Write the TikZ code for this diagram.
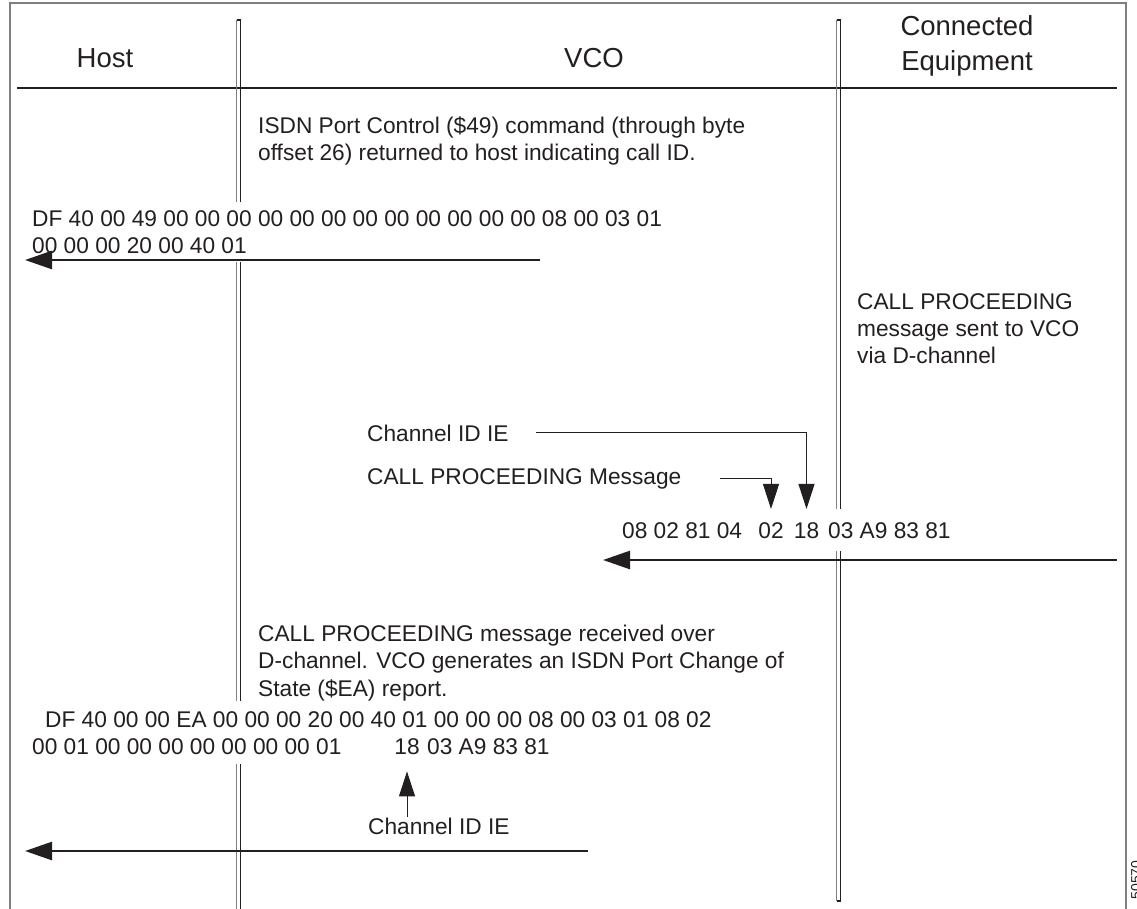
\documentclass[tikz,border=0pt]{standalone}
\usepackage{fontspec}
\setmainfont{Liberation Sans}
\usetikzlibrary{positioning, arrows.meta}
\definecolor{ink}{HTML}{231F20}
\definecolor{rulegray}{HTML}{7F7F7F}
\newcommand{\bodyfont}{\fontsize{22.7}{27.3}\selectfont}
\newcommand{\headfont}{\fontsize{27.5}{35}\selectfont}
\tikzstyle{header} = [inner sep=0pt, align=center, font=\headfont, text=ink]
\tikzstyle{note} = [inner sep=0pt, anchor=north west, align=left, font=\bodyfont, text=ink]
\tikzstyle{datablock} = [inner xsep=0pt, inner ysep=8pt, align=left, fill=white, font=\bodyfont, text=ink]
\tikzstyle{byte} = [inner xsep=0pt, inner ysep=13pt, font=\bodyfont, text=ink]
\tikzstyle{bytefill} = [byte, fill=white]
\tikzstyle{arrow} = [line width=2.6pt, draw=ink, -{Triangle[length=27pt,width=18pt]}]
\tikzstyle{pointer} = [line width=1pt, draw=ink, -{Triangle[length=25pt,width=16pt]}]
\tikzstyle{lifeline} = [line width=1.3pt]

\begin{document}
\begin{tikzpicture}[x=1pt, y=-1pt]
    \useasboundingbox (0,0) rectangle (1137,909);
    % frame and header rule
    \draw[rulegray, line width=1.2pt] (10,909) -- (10,3) -- (1126,3) -- (1126,909);
    \draw[ink, line width=2.8pt] (17,88) -- (1117,88);

    % lifelines
    \draw[lifeline, rulegray] (236.7,910) -- (236.7,20);
    \draw[lifeline, ink] (236.7,20) -- (240.7,20) -- (240.7,910);
    \draw[lifeline, rulegray] (836.7,901) -- (836.7,20);
    \draw[lifeline, ink] (836.7,20) -- (840.7,20) -- (840.7,901) -- (836.7,901);

    % column titles
    \node[header]               (host)  at (105,58)  {Host};
    \node[header]               (vco)   at (594,58)  {VCO};
    \node[header, anchor=north] (equip) at (967,15)  {Connected\\Equipment};

    % port control returned to host
    \node[note] (ctrlnote) at (258,116) {ISDN Port Control (\$49) command (through byte\\offset 26) returned to host indicating call ID.};
    \node[datablock, anchor=north west] (ctrldata) at (32,202) {DF 40 00 49 00 00 00 00 00 00 00 00 00 00 00 00 08 00 03 01\\00 00 00 20 00 40 01};
    \coordinate (ctrlfrom) at (540,260);
    \coordinate (ctrlto)   at (25,260);

    % call proceeding from equipment
    \node[byte, inner sep=0pt, anchor=north west] (cpnote) at (857,293) [align=left] {CALL PROCEEDING\\message sent to VCO\\via D-channel};
    \node[byte, inner sep=0pt, anchor=base west] (chidlabel) at (367,441) {Channel ID IE};
    \node[byte, inner sep=0pt, anchor=base west] (cpmsglabel) at (367,484) {CALL PROCEEDING Message};
    \node[byte, anchor=base west]     (cphead) at (622,538)   {08 02 81 04};
    \node[byte, anchor=base]          (cpmsg)  at (771,538)   {02};
    \node[byte, anchor=base]          (cpid)   at (806.5,538) {18};
    \node[bytefill, anchor=base west] (cptail) at (828,538)   {03 A9 83 81};
    \coordinate (cpfrom) at (1117,560);
    \coordinate (cpto)   at (603,560);

    % change of state report to host
    \node[note] (rcvnote) at (258,625) {CALL PROCEEDING message received over\\D-channel. VCO generates an ISDN Port Change of\\State (\$EA) report.};
    \node[datablock, inner ysep=10pt, anchor=base west] (rptdata1) at (45,727) {DF 40 00 00 EA 00 00 00 20 00 40 01 00 00 00 08 00 03 01 08 02};
    \node[datablock, inner ysep=10pt, anchor=base west] (rptdata2) at (32,754) {00 01 00 00 00 00 00 00 00 01};
    \node[byte, inner ysep=17pt, anchor=base] (rptid) at (407,754) {18};
    \node[byte, anchor=base west] (rpttail) at (427,754) {03 A9 83 81};
    \node[byte, inner sep=0pt, anchor=base west] (rptlabel) at (368,834) {Channel ID IE};
    \coordinate (rptfrom) at (588,851);
    \coordinate (rptto)   at (25,851);

    % figure number
    \node[rotate=90, anchor=north, inner sep=0pt, font=\fontsize{14}{14}\selectfont, text=ink] (fignum) at (1131,880) {50570};

    \draw[arrow]   (ctrlfrom) -- (ctrlto);
    \draw[arrow]   (cpfrom) -- (cpto);
    \draw[arrow]   (rptfrom) -- (rptto);
    \draw[pointer] ([xshift=27pt]chidlabel.east) -| (cpid.north);
    \draw[pointer] ([xshift=38pt]cpmsglabel.east) -| (cpmsg.north);
    \draw[pointer] (rptlabel.north -| rptid.south) -- (rptid.south);
\end{tikzpicture}
\end{document}
